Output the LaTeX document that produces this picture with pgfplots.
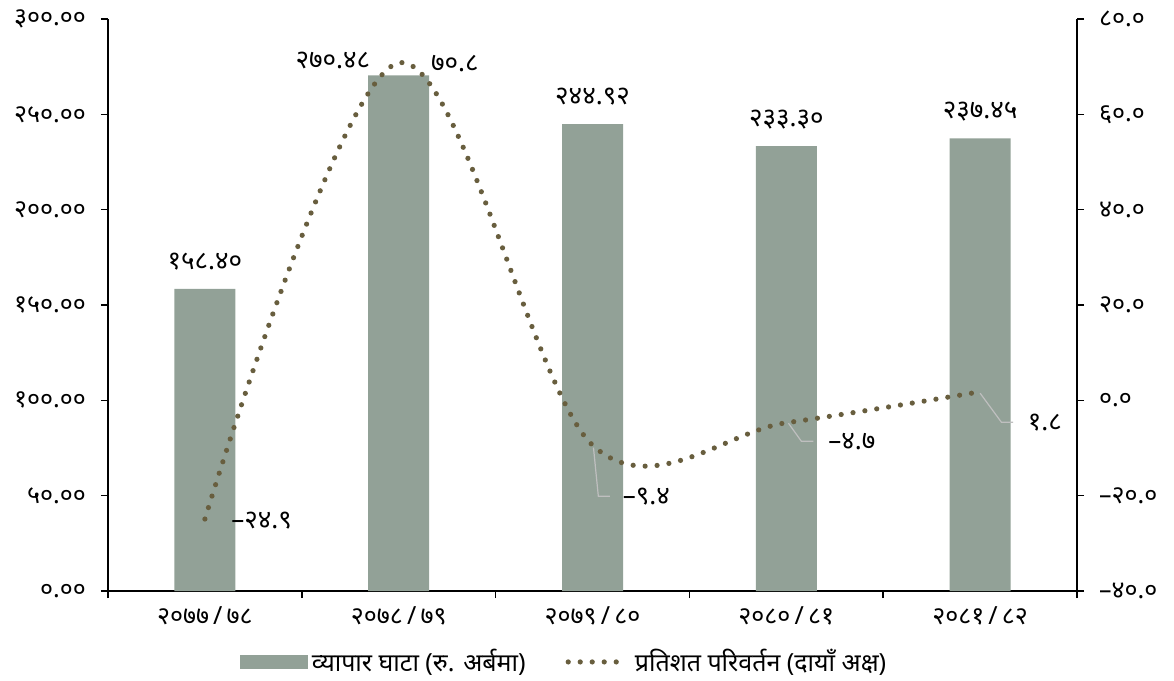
\documentclass[border=0pt]{standalone}
\usepackage{fontspec}
\setmainfont{Noto Sans}[Script=Devanagari]
\usepackage{pgfplots}
\pgfplotsset{compat=1.18}
\definecolor{barc}{RGB}{146,161,151}
\definecolor{linec}{RGB}{104,94,62}
\definecolor{leadc}{RGB}{191,191,191}
\tikzset{dotline/.style={linec, line width=2.6pt, line cap=round, dash pattern=on 0pt off 6pt}}
\begin{document}
\fontsize{13}{15}\selectfont
\begin{tikzpicture}
\begin{axis}[name=ax1, scale only axis, width=484.5pt, height=286pt,
  xmin=-0.5, xmax=4.5, ymin=0, ymax=300,
  axis x line*=bottom, axis y line*=left,
  axis line style={black, line width=0.8pt},
  every tick/.style={black, line width=0.8pt},
  tick align=outside,
  xtick={0,1,2,3,4}, major x tick style={draw=none},
  xticklabels={२०७७\,/\,७८, २०७८\,/\,७९, २०७९\,/\,८०, २०८०\,/\,८१, २०८१\,/\,८२},
  minor xtick={-0.5,0.5,1.5,2.5,3.5,4.5},
  minor tick length=3.5pt, major tick length=3.5pt,
  ytick={0,50,100,150,200,250,300},
  yticklabels={०.००, ५०.००, १००.००, १५०.००, २००.००, २५०.००, ३००.००},
  tick label style={font=\fontsize{12.5}{14}\selectfont},
  yticklabel style={xshift=-3pt},
  legend style={at={(0.4716,-0.124)}, anchor=center, legend columns=2, draw=none,
    font=\fontsize{12.5}{14}\selectfont,
    /tikz/every even column/.append style={column sep=18pt}},
  clip=false,
]
\addplot[fill=barc, draw=none, ybar, bar width=30.5pt,
  legend image code/.code={\fill[barc] (0pt,-3.5pt) rectangle (34pt,3.5pt);}]
  coordinates {(0,158.40) (1,270.48) (2,244.92) (3,233.30) (4,237.45)};
\addlegendentry{व्यापार घाटा (रु. अर्बमा)}
\addlegendimage{legend image code/.code={\draw[dotline] (1pt,0pt) -- (31pt,0pt);}}
\addlegendentry{प्रतिशत परिवर्तन (दायाँ अक्ष)}
\node at (axis cs:0,158.40) [yshift=13.5pt] {१५८.४०};
\node at (axis cs:0.66,278.5) {२७०.४८};
\node at (axis cs:2,244.92) [yshift=13.5pt] {२४४.९२};
\node at (axis cs:3,233.30) [yshift=13.5pt] {२३३.३०};
\node at (axis cs:4,237.45) [yshift=13.5pt] {२३७.४५};
\end{axis}
\begin{axis}[scale only axis, width=484.5pt, height=286pt,
  xmin=-0.5, xmax=4.5, ymin=-40, ymax=80,
  axis x line=none, axis y line*=right,
  axis line style={black, line width=0.8pt},
  every tick/.style={black, line width=0.8pt},
  tick align=outside, major tick length=3.5pt,
  ytick={-40,-20,0,20,40,60,80},
  yticklabels={–४०.०, –२०.०, ०.०, २०.०, ४०.०, ६०.०, ८०.०},
  tick label style={font=\fontsize{12.5}{14}\selectfont},
  yticklabel style={xshift=3pt},
  clip=false,
]
\addplot[dotline, smooth, tension=0.55] coordinates {(0,-24.9) (1,70.8) (2,-9.4) (3,-4.7) (4,1.8)};
\draw[leadc, line width=0.6pt] (axis cs:2.005,-9.9) -- (axis cs:2.03,-20.1) -- (axis cs:2.09,-20.1);
\draw[leadc, line width=0.6pt] (axis cs:3.011,-4.8) -- (axis cs:3.078,-8.6) -- (axis cs:3.14,-8.6);
\draw[leadc, line width=0.6pt] (axis cs:4.0,1.5) -- (axis cs:4.11,-4.6) -- (axis cs:4.17,-4.6);
\node[anchor=west] at (axis cs:0.09,-25.2) {–२४.९};
\node[anchor=west] at (axis cs:1.12,70.7) {७०.८};
\node[anchor=west] at (axis cs:2.11,-20.1) {–९.४};
\node[anchor=west] at (axis cs:3.17,-8.6) {–४.७};
\node[anchor=west] at (axis cs:4.2,-4.6) {१.८};
\end{axis}
\pgfresetboundingbox
\path[use as bounding box] ([xshift=-54pt,yshift=-44.5pt]ax1.south west) rectangle ([xshift=48.5pt,yshift=9.5pt]ax1.north east);
\end{tikzpicture}
\end{document}
